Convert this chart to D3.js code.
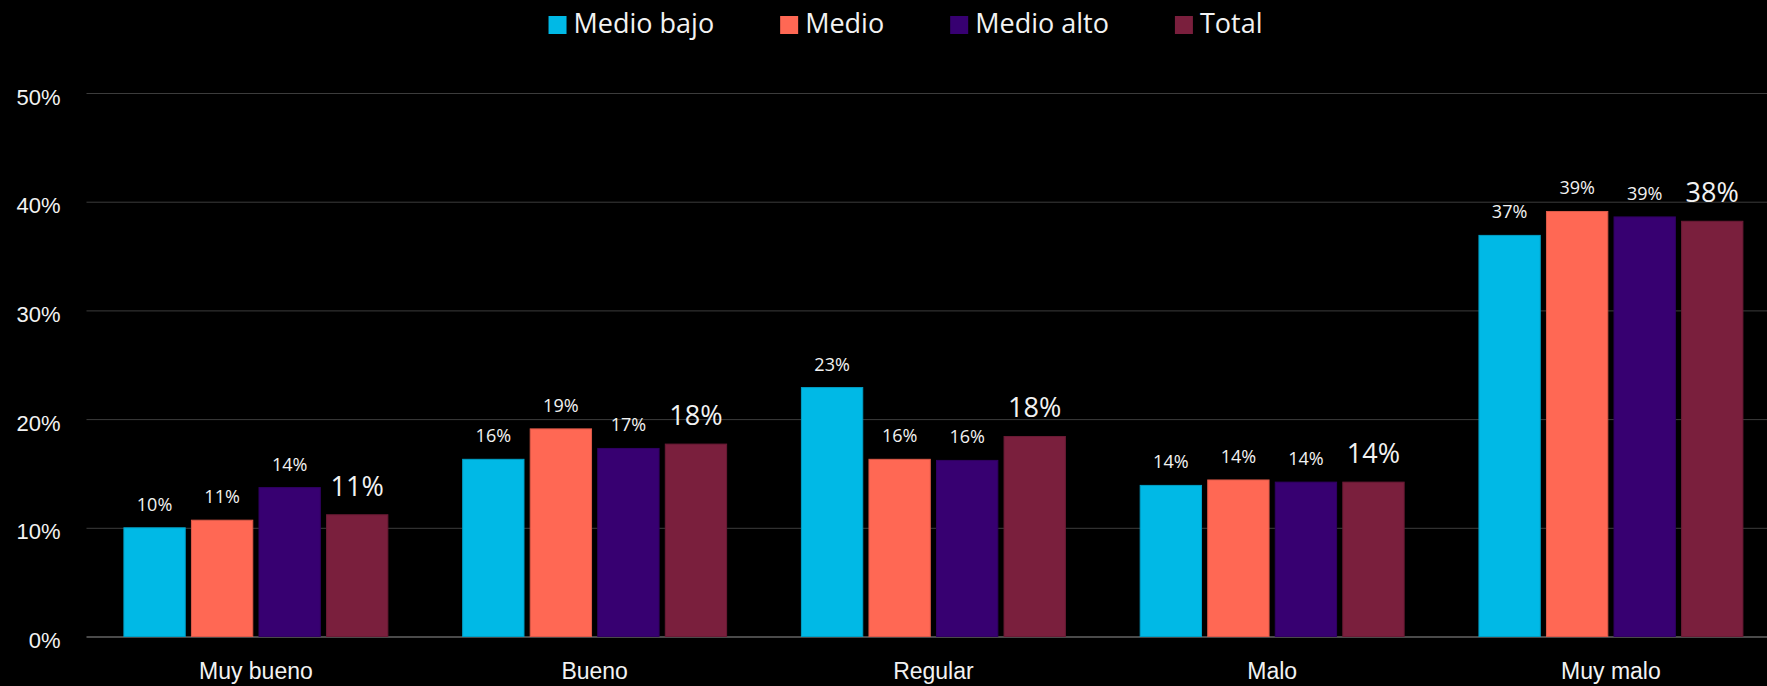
<!DOCTYPE html>
<html>
<head>
<meta charset="utf-8">
<script src="https://cdn.jsdelivr.net/npm/d3@7"></script>
<style>
  body { margin: 0; background: #000; }
  svg { display: block; font-family: "Open Sans", sans-serif; }
</style>
</head>
<body>
<div id="chart"></div>
<script>
// data (percent)
var categories = ["Muy bueno", "Bueno", "Regular", "Malo", "Muy malo"];
var seriesNames = ["Medio bajo", "Medio", "Medio alto", "Total"];
var medioBajo = [10.0, 16.3, 22.9, 13.9, 36.9];
var medio = [10.7, 19.1, 16.3, 14.4, 39.1];
var medioAlto = [13.7, 17.3, 16.2, 14.2, 38.6];
var total = [11.2, 17.7, 18.4, 14.2, 38.2];
var yTicks = [0, 10, 20, 30, 40, 50];

var colors = ["#00b9e6", "#ff6854", "#370071", "#7a1f3d"];
var allSeries = [medioBajo, medio, medioAlto, total];

var width = 1767, height = 686;

var svg = d3.select("#chart")
    .append("svg")
    .attr("width", width)
    .attr("height", height);

var x0 = d3.scaleBand()
    .domain(categories)
    .range([86.5, 1780.3]);

var x1 = d3.scaleBand()
    .domain(seriesNames)
    .range([37.4, x0.bandwidth() - 37.4])
    .paddingInner(0.092);

var y = d3.scaleLinear()
    .domain([0, 50])
    .range([636.5, 93]);

// gridlines + y labels
var yAxis = d3.axisLeft(y)
    .tickValues(yTicks)
    .tickSize(-(1780 - 86.5))
    .tickPadding(26)
    .tickFormat(d => d + "%");

var yAxisG = svg.append("g")
    .attr("transform", "translate(86.5,0)")
    .call(yAxis);
yAxisG.select(".domain").remove();
yAxisG.selectAll(".tick line")
    .attr("stroke", d => d === 0 ? "#4a4a4a" : "#3c3c3c")
    .attr("stroke-width", d => d === 0 ? 2 : 1);
yAxisG.selectAll(".tick text")
    .attr("fill", "#f2f2f2")
    .style("font-size", "22px")
    .attr("dy", "0.5em");

// x labels
var xAxis = d3.axisBottom(x0).tickSize(0).tickPadding(26);
var xAxisG = svg.append("g")
    .attr("transform", "translate(0,636.5)")
    .call(xAxis);
xAxisG.select(".domain").remove();
xAxisG.selectAll(".tick text")
    .attr("fill", "#f2f2f2")
    .style("font-size", "23px");

// bars
var groups = svg.selectAll(".group")
    .data(categories)
    .enter().append("g")
    .attr("class", "group")
    .attr("transform", d => "translate(" + x0(d) + ",0)");

seriesNames.forEach(function (name, si) {
    var vals = allSeries[si];
    var big = name === "Total";

    groups.append("rect")
        .attr("x", x1(name))
        .attr("width", x1.bandwidth())
        .attr("y", (d, i) => y(vals[i]))
        .attr("height", (d, i) => y(0) - y(vals[i]))
        .attr("fill", colors[si])
        .attr("stroke", d3.color(colors[si]).darker(0.4))
        .attr("stroke-width", 1);

    groups.append("text")
        .attr("x", x1(name) + x1.bandwidth() / 2)
        .attr("y", (d, i) => y(vals[i]) - (big ? 19 : 17))
        .attr("text-anchor", "middle")
        .attr("fill", "#f2f2f2")
        .style("font-size", big ? "27px" : "18px")
        .text((d, i) => Math.round(vals[i]) + "%");
});

// legend
var legend = svg.append("g").attr("class", "legend");
var lx = 0;
seriesNames.forEach(function (name, si) {
    var item = legend.append("g").attr("transform", "translate(" + lx + ",0)");
    item.append("rect")
        .attr("x", 0)
        .attr("y", 16)
        .attr("width", 18)
        .attr("height", 18)
        .attr("fill", colors[si]);
    var t = item.append("text")
        .attr("x", 25)
        .attr("y", 33)
        .attr("fill", "#f2f2f2")
        .style("font-size", "27px")
        .text(name);
    lx += 25 + t.node().getComputedTextLength() + 66;
});
var legendW = lx - 66;
legend.attr("transform", "translate(" + (905.5 - legendW / 2) + ",0)");
</script>
</body>
</html>
